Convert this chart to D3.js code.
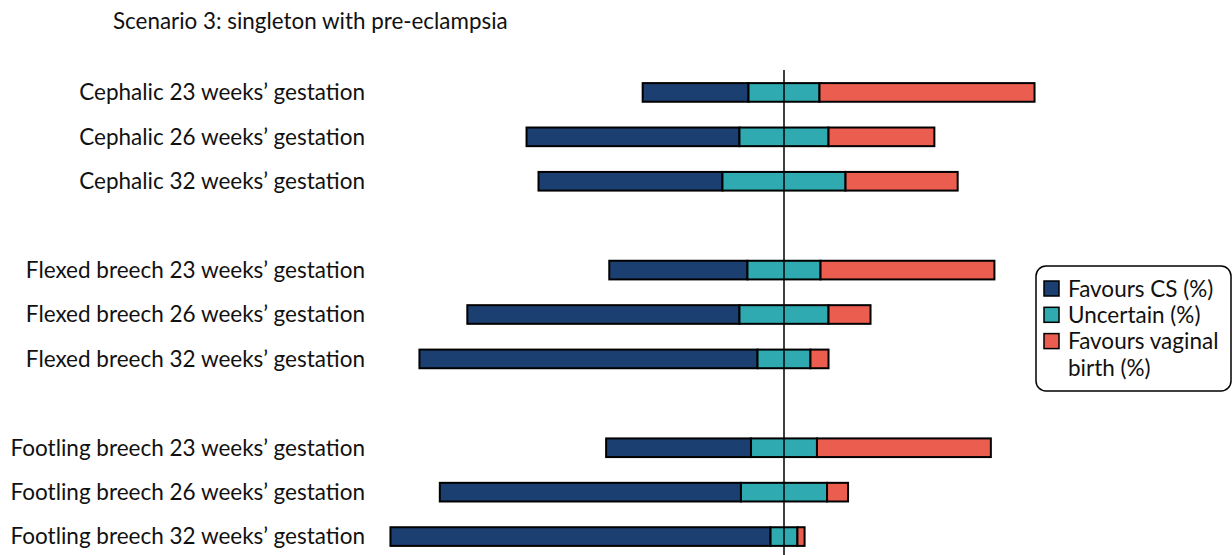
<!DOCTYPE html>
<html><head><meta charset="utf-8">
<script src="https://cdn.jsdelivr.net/npm/d3@7"></script>
<style>body{margin:0;background:#fff;}svg{display:block;font-family:Lato,sans-serif;}</style>
</head><body>
<svg id="chart" width="1232" height="555"></svg>
<script>
const categories = [
  "Cephalic 23 weeks’ gestation","Cephalic 26 weeks’ gestation","Cephalic 32 weeks’ gestation","",
  "Flexed breech 23 weeks’ gestation","Flexed breech 26 weeks’ gestation","Flexed breech 32 weeks’ gestation","",
  "Footling breech 23 weeks’ gestation","Footling breech 26 weeks’ gestation","Footling breech 32 weeks’ gestation"
];
const favoursCS    = [25.2, 50.7, 43.8, null, 32.9, 64.8, 80.5, null, 34.5, 71.7, 90.5];
const uncertain    = [16.9, 21.2, 29.3, null, 17.4, 21.2, 12.6, null, 15.7, 20.5, 6.4];
const favoursVag   = [51.2, 25.2, 26.7, null, 41.4, 10.0, 4.3, null, 41.4, 5.0, 1.7];
const seriesNames  = ["Favours CS (%)","Uncertain (%)","Favours vaginal birth (%)"];
const colors       = ["#1b3f70","#2eaab0","#eb5e4f"];
const title = "Scenario 3: singleton with pre-eclampsia";

const svg = d3.select("#chart");
const x = d3.scaleLinear().domain([-100, 100]).range([784 - 420, 784 + 420]);
const y = d3.scaleBand().domain(d3.range(categories.length)).range([72, 557]).paddingInner(0.58).paddingOuter(0.25);

svg.append("text").attr("x", 113).attr("y", 29).attr("font-size", 22.4).attr("fill", "#111").text(title);

const rows = categories.map((c, i) => ({c, i, cs: favoursCS[i], u: uncertain[i], v: favoursVag[i]})).filter(d => d.c);

const g = svg.append("g");
rows.forEach(d => {
  const segs = [
    {x0: -d.u/2 - d.cs, x1: -d.u/2, k: 0},
    {x0: -d.u/2, x1: d.u/2, k: 1},
    {x0: d.u/2, x1: d.u/2 + d.v, k: 2}
  ];
  g.selectAll(null).data(segs).enter().append("rect")
    .attr("x", s => x(s.x0)).attr("width", s => x(s.x1) - x(s.x0))
    .attr("y", y(d.i)).attr("height", y.bandwidth())
    .attr("fill", s => colors[s.k]).attr("stroke", "#000").attr("stroke-width", 2);
  svg.append("text").attr("x", 365).attr("y", y(d.i) + y.bandwidth()/2).attr("dy", "0.35em")
    .attr("text-anchor", "end").attr("font-size", 22.5).attr("fill", "#111").text(d.c);
});

svg.append("line").attr("x1", x(0)).attr("x2", x(0)).attr("y1", 70).attr("y2", 555)
  .attr("stroke", "#000").attr("stroke-width", 1.5);

// legend
const lg = svg.append("g").attr("transform", "translate(1036,266)");
lg.append("rect").attr("width", 195).attr("height", 125).attr("rx", 10).attr("ry", 10)
  .attr("fill", "#fff").attr("stroke", "#000").attr("stroke-width", 1.5);
const legendLines = [["Favours CS (%)"],["Uncertain (%)"],["Favours vaginal","birth (%)"]];
seriesNames.forEach((n, k) => {
  const yy = 23 + k * 26.3;
  lg.append("rect").attr("x", 8).attr("y", yy - 8).attr("width", 15).attr("height", 15)
    .attr("fill", colors[k]).attr("stroke", "#000").attr("stroke-width", 1.5);
  legendLines[k].forEach((t, j) => {
    lg.append("text").attr("x", 32).attr("y", yy + j * 26.3).attr("dy", "0.35em")
      .attr("font-size", 22.5).attr("fill", "#111").text(t);
  });
});
</script>
</body></html>
